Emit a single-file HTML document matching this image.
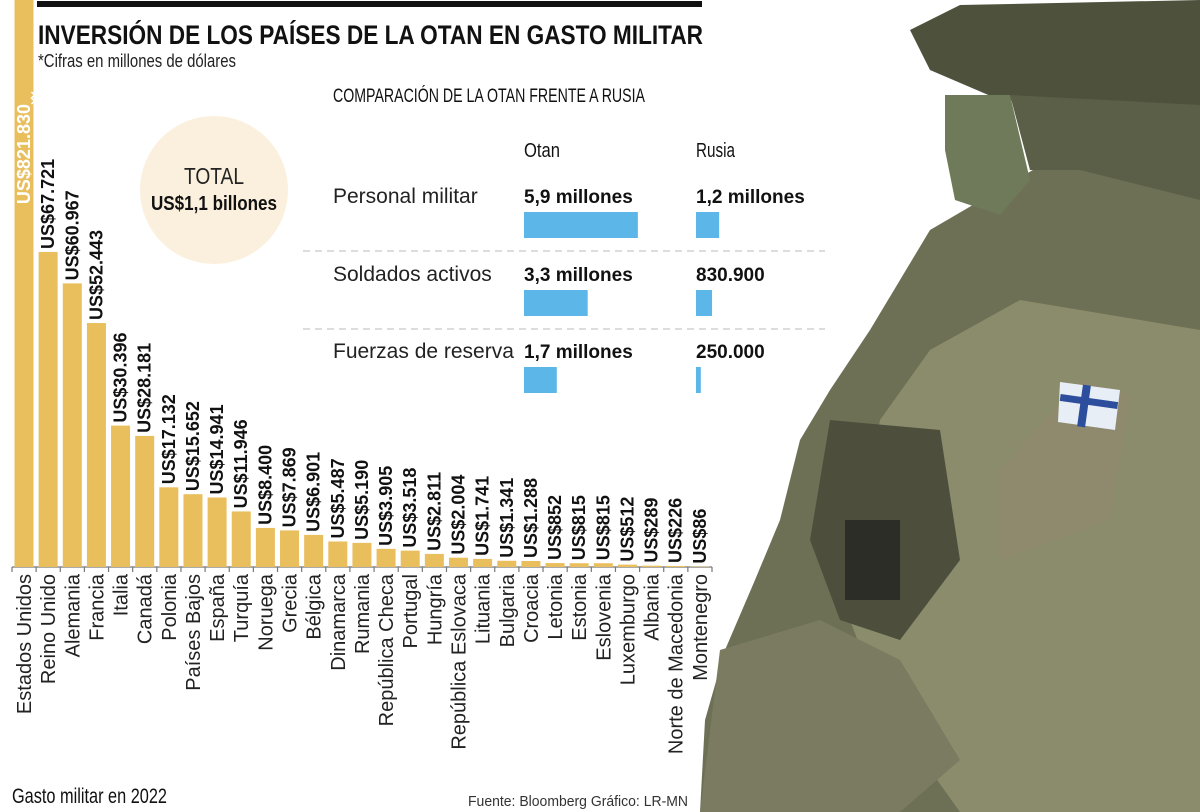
<!DOCTYPE html>
<html><head><meta charset="utf-8"><style>
html,body{margin:0;padding:0;background:#fff;}
svg{display:block;}
text{font-family:"Liberation Sans Narrow","Liberation Sans",sans-serif;}
</style></head><body>
<svg id="chart" width="1200" height="812" viewBox="0 0 1200 812">
  <g>
    <polygon points="1200,150 1050,160 930,230 900,280 870,330 830,390 800,440 780,520 755,580 725,650 705,720 700,812 1200,812" fill="#6e7056"/>
    <polygon points="1200,330 1020,300 930,350 880,420 860,520 850,620 880,700 960,812 1200,812" fill="#8b8c6c"/>
    <polygon points="1080,380 1130,395 1110,520 1000,560 1000,470" fill="#8f8a6e"/>
    <polygon points="830,420 940,430 960,560 900,640 840,620 810,540" fill="#4d4f3c"/>
    <polygon points="720,650 820,620 900,660 960,760 900,812 700,812" fill="#7a7b60"/>
    <polygon points="1060,382 1120,390 1115,430 1058,422" fill="#e8eef5"/>
    <rect x="1080" y="385" width="8" height="42" fill="#2c4e9c" transform="rotate(8 1084 406)"/>
    <rect x="1060" y="398" width="58" height="7" fill="#2c4e9c" transform="rotate(8 1089 401)"/>
    <polygon points="910,30 960,5 1200,0 1200,110 1120,105 1000,100 930,70" fill="#4e523d"/>
    <polygon points="945,95 1010,95 1030,180 1000,215 955,200 945,150" fill="#6f7a5a"/>
    <polygon points="1010,95 1200,105 1200,200 1080,170 1030,170" fill="#5b5f48"/>
    <polygon points="845,520 900,520 900,600 845,600" fill="#2d2d28"/>
  </g>

  <rect x="37" y="1" width="665" height="6" fill="#111"/>
  <text x="38" y="44" font-size="27" font-weight="bold" fill="#111" textLength="665" lengthAdjust="spacingAndGlyphs">INVERSIÓN DE LOS PAÍSES DE LA OTAN EN GASTO MILITAR</text>
  <text x="38" y="67" font-size="18" fill="#222" textLength="198" lengthAdjust="spacingAndGlyphs">*Cifras en millones de dólares</text>

  <circle cx="214" cy="190" r="74" fill="#fbf0dd"/>
  <text x="214" y="184" font-size="23" text-anchor="middle" fill="#222" textLength="60" lengthAdjust="spacingAndGlyphs">TOTAL</text>
  <text x="214" y="210" font-size="20" font-weight="bold" text-anchor="middle" fill="#111" textLength="126" lengthAdjust="spacingAndGlyphs">US$1,1 billones</text>

  <g id="bars"></g>

  <g>
    <text x="333" y="102" font-size="19" fill="#111" textLength="312" lengthAdjust="spacingAndGlyphs">COMPARACIÓN DE LA OTAN FRENTE A RUSIA</text>
    <text x="524" y="157" font-size="20" fill="#111" textLength="36" lengthAdjust="spacingAndGlyphs">Otan</text>
    <text x="696" y="157" font-size="20" fill="#111" textLength="39" lengthAdjust="spacingAndGlyphs">Rusia</text>
    <g id="cmp"></g>
  </g>

  <text x="12" y="803" font-size="21" fill="#111" textLength="155" lengthAdjust="spacingAndGlyphs">Gasto militar en 2022</text>
  <text x="468" y="806" font-size="15" fill="#333" textLength="220" lengthAdjust="spacingAndGlyphs">Fuente: Bloomberg Gráfico: LR-MN</text>
</svg>
<script>
const countries = ["Estados Unidos","Reino Unido","Alemania","Francia","Italia","Canadá","Polonia","Países Bajos","España","Turquía","Noruega","Grecia","Bélgica","Dinamarca","Rumania","República Checa","Portugal","Hungría","República Eslovaca","Lituania","Bulgaria","Croacia","Letonia","Estonia","Eslovenia","Luxemburgo","Albania","Norte de Macedonia","Montenegro"];
const spending = [821830,67721,60967,52443,30396,28181,17132,15652,14941,11946,8400,7869,6901,5487,5190,3905,3518,2811,2004,1741,1341,1288,852,815,815,512,289,226,86];
const valueLabels = ["US$821.830","US$67.721","US$60.967","US$52.443","US$30.396","US$28.181","US$17.132","US$15.652","US$14.941","US$11.946","US$8.400","US$7.869","US$6.901","US$5.487","US$5.190","US$3.905","US$3.518","US$2.811","US$2.004","US$1.741","US$1.341","US$1.288","US$852","US$815","US$815","US$512","US$289","US$226","US$86"];

const cmpRows = ["Personal militar","Soldados activos","Fuerzas de reserva"];
const otanValues = [5.9,3.3,1.7];
const rusiaValues = [1.2,0.8309,0.25];
const otanLabels = ["5,9 millones","3,3 millones","1,7 millones"];
const rusiaLabels = ["1,2 millones","830.900","250.000"];

const NS="http://www.w3.org/2000/svg";
function mk(tag,attrs,parent){const e=document.createElementNS(NS,tag);for(const k in attrs)e.setAttribute(k,attrs[k]);parent.appendChild(e);return e;}

const baseY=567, x0=12, step=700/29, bw=19;
const yScale = v => Math.max(0, baseY - v*0.004652);
const xBand = i => x0 + i*step + 2.5;

const g=document.getElementById('bars');
const axis=mk('line',{x1:x0,x2:x0+700,y1:baseY,y2:baseY,stroke:'#777','stroke-width':1.2},g);


for(let i=0;i<=29;i++){
  const t=mk('line',{x1:x0+i*step,x2:x0+i*step,y1:baseY,y2:baseY+5,stroke:'#777','stroke-width':1.2},g);
  
  
}
spending.forEach((v,i)=>{
  const x=xBand(i), top=yScale(v), cx=x+bw/2;
  const r=mk('rect',{x:x,y:top,width:bw,height:baseY-top,fill:'#e9bf5e'},g);
  
  
  let lbl;
  if(top<=0){
    lbl=mk('text',{x:0,y:0,'font-size':18,'font-weight':'bold',fill:'#fff','text-anchor':'end',transform:`translate(${cx+6},${104}) rotate(-90)`},g);
    const brk=mk('path',{d:`M${x+bw-2},92 l3,3 l-3,3 l3,3 l-3,3`,stroke:'#fff',fill:'none','stroke-width':1.5},g);
    
    
  } else {
    lbl=mk('text',{x:0,y:0,'font-size':18,'font-weight':'bold',fill:'#111',transform:`translate(${cx+6},${top-3}) rotate(-90)`},g);
  }
  lbl.textContent=valueLabels[i];
  
  
  const c=mk('text',{x:0,y:0,'font-size':20,fill:'#222','text-anchor':'end',transform:`translate(${cx+7},${574}) rotate(-90)`},g);
  c.textContent=countries[i];
  
  
});

const cg=document.getElementById('cmp');
const pxPerM=19.3, rowY=[203,281,358];
cmpRows.forEach((name,i)=>{
  const y=rowY[i];
  const t=mk('text',{x:333,y:y,'font-size':21,fill:'#222'},cg);
  t.textContent=name;
  
  
  const a=mk('text',{x:524,y:y,'font-size':19,'font-weight':'bold',fill:'#111'},cg);
  a.textContent=otanLabels[i];
  
  
  const b=mk('text',{x:696,y:y,'font-size':19,'font-weight':'bold',fill:'#111'},cg);
  b.textContent=rusiaLabels[i];
  
  
  const r1=mk('rect',{x:524,y:y+9,width:otanValues[i]*pxPerM,height:26,fill:'#5db6e8'},cg);
  
  
  const r2=mk('rect',{x:696,y:y+9,width:Math.max(4,rusiaValues[i]*pxPerM),height:26,fill:'#5db6e8'},cg);
  
  
  if(i<2){
    const d=mk('line',{x1:303,x2:825,y1:y+48,y2:y+48,stroke:'#bbb','stroke-dasharray':'7,5','stroke-width':1},cg);
    
    
  }
});
</script>
</body></html>
